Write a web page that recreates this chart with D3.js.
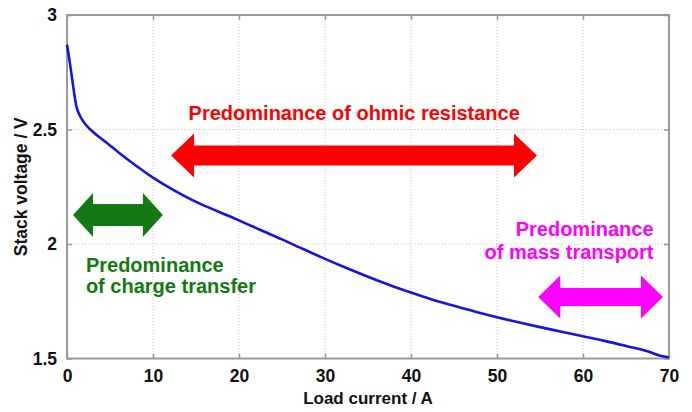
<!DOCTYPE html>
<html><head><meta charset="utf-8">
<script src="https://cdn.jsdelivr.net/npm/d3@7"></script>
<style>
body{margin:0;background:#fff;}
text{font-family:"Liberation Sans",Arial,sans-serif;font-weight:bold;}
</style></head>
<body><svg id="c" width="692" height="412"></svg>
<script>
// Data
const current = [0,0.3,0.6,1.1,1.5,2,3,4,5,6,8,10,12.5,15,17.5,20,22.5,25,27.5,30,32.5,35,37.5,40,42.5,45,47.5,50,52.5,55,57.5,60,62.5,65,67.5,69,70];
const voltage = [2.87,2.80,2.72,2.60,2.56,2.53,2.49,2.46,2.43,2.40,2.343,2.29,2.233,2.184,2.143,2.103,2.061,2.02,1.977,1.935,1.895,1.857,1.821,1.788,1.757,1.73,1.704,1.68,1.658,1.637,1.617,1.597,1.577,1.555,1.532,1.512,1.505];
const xTicks = [0,10,20,30,40,50,60,70];
const yTicks = [1.5,2,2.5,3];
const xLabel = "Load current / A";
const yLabel = "Stack voltage / V";
// annotations (data coordinates)
const arrowNames = ["ohmic","charge","mass"];
const arrowX0 = [12.1,0.7,54.8];
const arrowX1 = [54.65,11.15,69.3];
const arrowY = [2.386,2.127,1.769];
const arrowColors = ["#ff0000","#137a13","#ff00ff"];
const noteLines = [["Predominance of ohmic resistance"],["Predominance","of charge transfer"],["Predominance","of mass transport"]];
const noteX = [33.4,2.2,68.2];
const noteY = [2.541,1.879,2.035];
const noteAnchor = ["middle","start","end"];

const svg = d3.select("#c");
const L=67,R=669,T=15,B=358.5;
const x = d3.scaleLinear().domain([0,70]).range([L,R]);
const y = d3.scaleLinear().domain([1.5,3]).range([B,T]);

// grid
const g = svg.append("g");
g.selectAll(".gx").data(xTicks.slice(1,-1)).enter().append("line")
 .attr("x1",d=>x(d)).attr("x2",d=>x(d)).attr("y1",T).attr("y2",B)
 .attr("stroke","#c8c8c8").attr("stroke-width",1).attr("stroke-dasharray","1,2");
g.selectAll(".gy").data(yTicks.slice(1,-1)).enter().append("line")
 .attr("y1",d=>y(d)).attr("y2",d=>y(d)).attr("x1",L).attr("x2",R)
 .attr("stroke","#c8c8c8").attr("stroke-width",1).attr("stroke-dasharray","1,2");

// axes
const xAxisB = d3.axisBottom(x).tickValues(xTicks).tickSize(-5).tickPadding(11).tickFormat(d3.format("d"));
const xAxisT = d3.axisTop(x).tickValues(xTicks).tickSize(-5).tickFormat("");
const yAxisL = d3.axisLeft(y).tickValues(yTicks).tickSize(-5).tickPadding(10).tickFormat(d=>String(d));
const yAxisR = d3.axisRight(y).tickValues(yTicks).tickSize(-5).tickFormat("");
function style(sel){
  sel.select(".domain").attr("stroke","#9a9a9a").attr("stroke-width",2);
  sel.selectAll(".tick line").attr("stroke","#9a9a9a").attr("stroke-width",1.5);
  sel.selectAll("text").attr("fill","#111").style("font-size","17.5px").style("font-family","'Liberation Sans',Arial,sans-serif").style("font-weight","bold");
}
svg.append("g").attr("transform",`translate(0,${B})`).call(xAxisB).call(style);
svg.append("g").attr("transform",`translate(0,${T})`).call(xAxisT).call(style);
svg.append("g").attr("transform",`translate(${L},0)`).call(yAxisL).call(style);
svg.append("g").attr("transform",`translate(${R},0)`).call(yAxisR).call(style);
svg.selectAll(".domain").attr("d",null);
svg.append("rect").attr("x",L).attr("y",T).attr("width",R-L).attr("height",B-T)
 .attr("fill","none").attr("stroke","#9a9a9a").attr("stroke-width",2);

// curve
const pts = current.map((c,i)=>[c,voltage[i]]);
svg.append("path").datum(pts)
 .attr("d",d3.line().x(d=>x(d[0])).y(d=>y(d[1])).curve(d3.curveMonotoneX))
 .attr("fill","none").attr("stroke","#1414e8").attr("stroke-width",2.6).attr("stroke-linejoin","round");

// arrows
const shaftHalf=[10,11,9], headHalf=[22,22,21.5], headLen=[23,20,22];
arrowNames.forEach((n,i)=>{
  const x0=x(arrowX0[i]), x1=x(arrowX1[i]), cy=y(arrowY[i]);
  const s=shaftHalf[i], h=headHalf[i], l=headLen[i];
  const p=[[x0,cy],[x0+l,cy-h],[x0+l,cy-s],[x1-l,cy-s],[x1-l,cy-h],[x1,cy],[x1-l,cy+h],[x1-l,cy+s],[x0+l,cy+s],[x0+l,cy+h]];
  svg.append("path").attr("d","M"+p.map(q=>q.join(",")).join("L")+"Z").attr("fill",arrowColors[i]);
});

// notes
const lineGap=[0,21.5,23.5];
noteLines.forEach((lines,i)=>{
  const t=svg.append("text").attr("x",x(noteX[i])).attr("y",y(noteY[i]))
   .attr("text-anchor",noteAnchor[i]).attr("fill",arrowColors[i]).style("font-size","20px");
  lines.forEach((ln,j)=>t.append("tspan").attr("x",x(noteX[i])).attr("dy",j?lineGap[i]:0).text(ln));
});

// axis labels
svg.append("text").attr("x",(L+R)/2).attr("y",404).attr("text-anchor","middle").attr("fill","#111").style("font-size","17px").text(xLabel);
svg.append("text").attr("transform",`translate(27,${(T+B)/2}) rotate(-90)`).attr("text-anchor","middle").attr("fill","#111").style("font-size","17.5px").text(yLabel);
</script></body></html>
